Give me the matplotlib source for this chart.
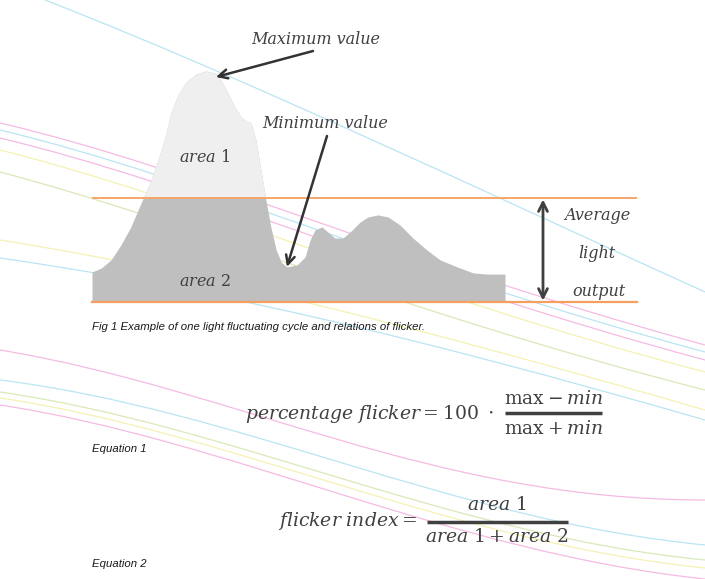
import numpy as np
import matplotlib.pyplot as plt
from matplotlib.path import Path
from matplotlib.patches import PathPatch

plt.rcParams['mathtext.fontset'] = 'custom'
plt.rcParams['mathtext.rm'] = 'DejaVu Serif'
plt.rcParams['mathtext.it'] = 'DejaVu Serif:italic'

# one light cycle: time in % of the cycle, light output in % of the peak
cycle_time = [0, 2.25, 4.6, 7.0, 9.4, 11.9, 14.0, 16.0, 17.7, 19.1, 20.8, 22.8,
              25.2, 27.6, 29.8, 31.2, 32.9, 34.6, 36.1, 37.3, 38.5, 39.7, 40.9,
              42.1, 43.3, 44.6, 45.8, 47.2, 49.6, 51.6, 52.8, 54.0, 55.7, 57.1,
              58.8, 60.8, 63.0, 64.9, 66.8, 69.2, 71.7, 74.6, 77.7, 81.1, 84.3,
              88.4, 92.3, 95.6, 100]
light_output = [13.0, 14.7, 18.2, 24.7, 32.5, 42.9, 51.5, 61.5, 71.4, 81.8, 89.6, 95.2,
                98.7, 100, 99.1, 96.1, 90.5, 84.4, 80.1, 78.4, 77.5, 70.1, 57.1,
                44.2, 32.5, 22.5, 17.3, 15.2, 16.0, 19.5, 26.8, 31.2, 32.5, 30.3,
                27.7, 27.7, 31.2, 34.6, 36.8, 37.7, 36.8, 33.3, 27.7, 22.5, 18.2,
                15.2, 12.6, 12.1, 12.1]
average_output = 45

caption = 'Fig 1 Example of one light fluctuating cycle and relations of flicker.'

# faint decorative swooshes in the background (page design)
bg_curves = [
    ('#a8dff0', (45, 0), (250, 80), (480, 190), (705, 292)),
    ('#f4a9dc', (0, 123), (200, 170), (400, 262), (705, 345)),
    ('#a8dff0', (0, 130), (200, 178), (400, 270), (705, 352)),
    ('#f4a9dc', (0, 138), (200, 186), (400, 278), (705, 360)),
    ('#f2eea0', (0, 150), (200, 200), (400, 292), (705, 372)),
    ('#cfe3a8', (0, 172), (200, 225), (400, 312), (705, 390)),
    ('#f2eea0', (0, 240), (200, 272), (400, 322), (705, 410)),
    ('#a8dff0', (0, 258), (200, 287), (400, 332), (705, 420)),
    ('#f4a9dc', (0, 350), (240, 390), (430, 500), (705, 500)),
    ('#a8dff0', (0, 380), (240, 410), (450, 520), (705, 545)),
    ('#cfe3a8', (0, 392), (230, 425), (450, 535), (705, 560)),
    ('#f2eea0', (0, 398), (230, 432), (450, 542), (705, 568)),
    ('#f4a9dc', (0, 405), (230, 440), (450, 552), (705, 579)),
]

ink = '#404040'
orange = '#f5a060'

fig = plt.figure(figsize=(7.05, 5.79), dpi=100)

bg = fig.add_axes([0, 0, 1, 1], zorder=0)
bg.set_xlim(0, 705)
bg.set_ylim(579, 0)
bg.axis('off')
for col, p0, p1, p2, p3 in bg_curves:
    path = Path([p0, p1, p2, p3], [Path.MOVETO, Path.CURVE4, Path.CURVE4, Path.CURVE4])
    bg.add_patch(PathPatch(path, fc='none', ec=col, lw=0.9, alpha=0.8))

# waveform axes
ax = fig.add_axes([92 / 705, 277 / 579, 545 / 705, 262 / 579], zorder=1)
ax.patch.set_alpha(0)
ax.set_xlim(0, 545 / 413 * 100)
ax.set_ylim(0, 262 / 231 * 100)
ax.axis('off')

t = np.array(cycle_time)
y = np.array(light_output)
ax.fill_between(t, 0, y, color='#bfbfbf', lw=0)
ax.fill_between(t, average_output, y, where=y > average_output, interpolate=True,
                color='#efefef', lw=0)
ax.axhline(average_output, color=orange, lw=1.3, zorder=3)
ax.axhline(0, color=orange, lw=1.6, zorder=3, clip_on=False)

# overlay axes in pixel units for the labels
ov = fig.add_axes([0, 0, 1, 1], zorder=2)
ov.patch.set_alpha(0)
ov.set_xlim(0, 705)
ov.set_ylim(579, 0)
ov.axis('off')

imax = int(np.argmax(y))
dip = imax + int(np.argmin(y[imax:imax + 20]))
arr = dict(arrowstyle='->', color='#333333', lw=1.8, mutation_scale=16,
           shrinkA=0, shrinkB=0)
ax.annotate('', xy=(t[imax] + 2.4, y[imax] - 2.6), xytext=(313, 51),
            textcoords=ov.transData, arrowprops=arr)
ax.annotate('', xy=(t[dip], y[dip]), xytext=(327, 136),
            textcoords=ov.transData, arrowprops=arr)
ax.annotate('', xy=(109.2, 0), xytext=(109.2, average_output),
            arrowprops=dict(arrowstyle='<->', color=ink, lw=2, mutation_scale=16,
                            shrinkA=1, shrinkB=1))

serif = dict(family='DejaVu Serif', style='italic', color=ink, fontsize=11.5,
             ha='center', va='center')
ov.text(316, 39, 'Maximum value', **serif)
ov.text(325, 124, 'Minimum value', **serif)
ov.text(205, 157, r'$area\ 1$', **serif)
ov.text(205, 282, r'$area\ 2$', **serif)
ov.text(597, 215, 'Average', **serif)
ov.text(597, 253, 'light', **serif)
ov.text(599, 291, 'output', **serif)

sans = dict(family='Liberation Sans', style='italic', color='#1a1a1a',
            fontsize=8.2, ha='left', va='center')
ov.text(92, 327, caption, **sans)
ov.text(92, 449, 'Equation 1', **sans)
ov.text(92, 564, 'Equation 2', **sans)

eq = dict(color=ink, fontsize=13.5, va='center')
ov.text(245, 414, r'$percentage\ flicker = 100\ \cdot$', ha='left', **eq)
ov.text(553, 398, r'$\mathrm{max} - min$', ha='center', **eq)
ov.plot([505, 602], [413, 413], color=ink, lw=2.5, solid_capstyle='butt')
ov.text(553, 429, r'$\mathrm{max} + min$', ha='center', **eq)

ov.text(278, 521, r'$flicker\ index =$', ha='left', **eq)
ov.text(497, 505, r'$area\ 1$', ha='center', **eq)
ov.plot([427, 568], [522, 522], color=ink, lw=2.5, solid_capstyle='butt')
ov.text(497, 536, r'$area\ 1 + area\ 2$', ha='center', **eq)

fig.savefig('out.png', dpi=100)
